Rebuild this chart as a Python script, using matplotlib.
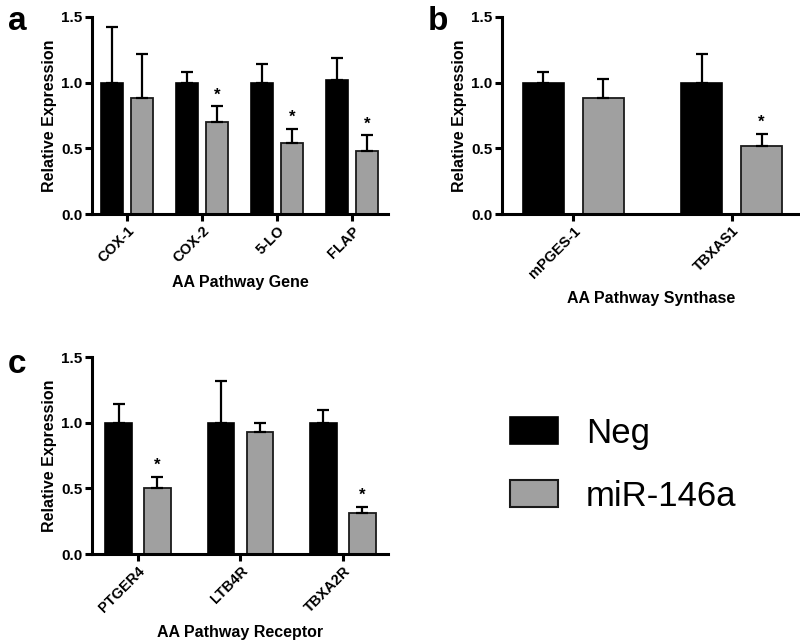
import matplotlib.pyplot as plt
import numpy as np
from matplotlib.patches import Patch

plt.rcParams['font.family'] = ['Liberation Sans', 'DejaVu Sans']

# data
genes_a = ["COX-1", "COX-2", "5-LO", "FLAP"]
neg_a = [1.00, 1.00, 1.00, 1.02]
neg_a_err = [0.42, 0.08, 0.14, 0.17]
mir_a = [0.88, 0.70, 0.54, 0.48]
mir_a_err = [0.34, 0.12, 0.11, 0.12]
sig_a = [False, True, True, True]

genes_b = ["mPGES-1", "TBXAS1"]
neg_b = [1.00, 1.00]
neg_b_err = [0.08, 0.22]
mir_b = [0.88, 0.52]
mir_b_err = [0.15, 0.09]
sig_b = [False, True]

genes_c = ["PTGER4", "LTB4R", "TBXA2R"]
neg_c = [1.00, 1.00, 1.00]
neg_c_err = [0.14, 0.32, 0.10]
mir_c = [0.50, 0.93, 0.31]
mir_c_err = [0.09, 0.07, 0.05]
sig_c = [True, False, True]

black = "#000000"
grey = "#a0a0a0"

fig = plt.figure(figsize=(8, 6.41), dpi=100)


def panel(rect, genes, neg, neg_err, mir, mir_err, sig, xlabel, xlim, off, width):
    ax = fig.add_axes(rect)
    x = np.arange(len(genes))
    ax.bar(x - off, neg, width, color=black, edgecolor=black, linewidth=1.2,
           yerr=[np.zeros(len(neg)), neg_err], capsize=4,
           error_kw=dict(elinewidth=1.6, capthick=1.6, ecolor=black))
    ax.bar(x + off, mir, width, color=grey, edgecolor="#1a1a1a", linewidth=1.3,
           yerr=[np.zeros(len(mir)), mir_err], capsize=4,
           error_kw=dict(elinewidth=1.6, capthick=1.6, ecolor=black))
    for i, s in enumerate(sig):
        if s:
            ax.text(x[i] + off, mir[i] + mir_err[i] + 0.03, "*", ha="center",
                    va="bottom", fontsize=12, fontweight="bold")
    ax.set_xlim(*xlim)
    ax.set_ylim(0, 1.5)
    ax.set_yticks([0, 0.5, 1.0, 1.5])
    ax.set_yticklabels(["0.0", "0.5", "1.0", "1.5"], fontsize=11, fontweight="bold")
    ax.set_xticks(x)
    ax.set_xticklabels(genes, rotation=45, ha="right", rotation_mode="anchor",
                       fontsize=10.5, fontweight="bold")
    ax.spines["top"].set_visible(False)
    ax.spines["right"].set_visible(False)
    ax.spines["left"].set_linewidth(2.2)
    ax.spines["bottom"].set_linewidth(2.2)
    ax.tick_params(width=2.2, length=5, pad=2)
    ax.set_ylabel("Relative Expression", fontsize=11.5, fontweight="bold", labelpad=3)
    ax.set_xlabel(xlabel, fontsize=11.5, fontweight="bold", labelpad=7)
    return ax


panel([0.115, 0.666, 0.37, 0.3075], genes_a, neg_a, neg_a_err, mir_a, mir_a_err,
      sig_a, "AA Pathway Gene", (-0.467, 3.48), 0.2, 0.29)
panel([0.6275, 0.666, 0.3725, 0.3075], genes_b, neg_b, neg_b_err, mir_b, mir_b_err,
      sig_b, "AA Pathway Synthase", (-0.452, 1.433), 0.19, 0.255)
panel([0.115, 0.1357, 0.37, 0.3073], genes_c, neg_c, neg_c_err, mir_c, mir_c_err,
      sig_c, "AA Pathway Receptor", (-0.449, 2.44), 0.19, 0.26)

# panel letters
fig.text(0.01, 0.99, "a", fontsize=24, fontweight="bold", va="top")
fig.text(0.535, 0.99, "b", fontsize=24, fontweight="bold", va="top")
fig.text(0.01, 0.455, "c", fontsize=24, fontweight="bold", va="top")

# legend
handles = [Patch(facecolor=black, edgecolor=black, linewidth=1.2, label="Neg"),
           Patch(facecolor=grey, edgecolor="#1a1a1a", linewidth=1.5, label="miR-146a")]
fig.legend(handles=handles, loc="center left", bbox_to_anchor=(0.638, 0.275),
           frameon=False, fontsize=25, handlelength=1.38, handleheight=0.8,
           handletextpad=0.8, labelspacing=0.87, borderpad=0, borderaxespad=0)

fig.savefig("out.png", dpi=100)
